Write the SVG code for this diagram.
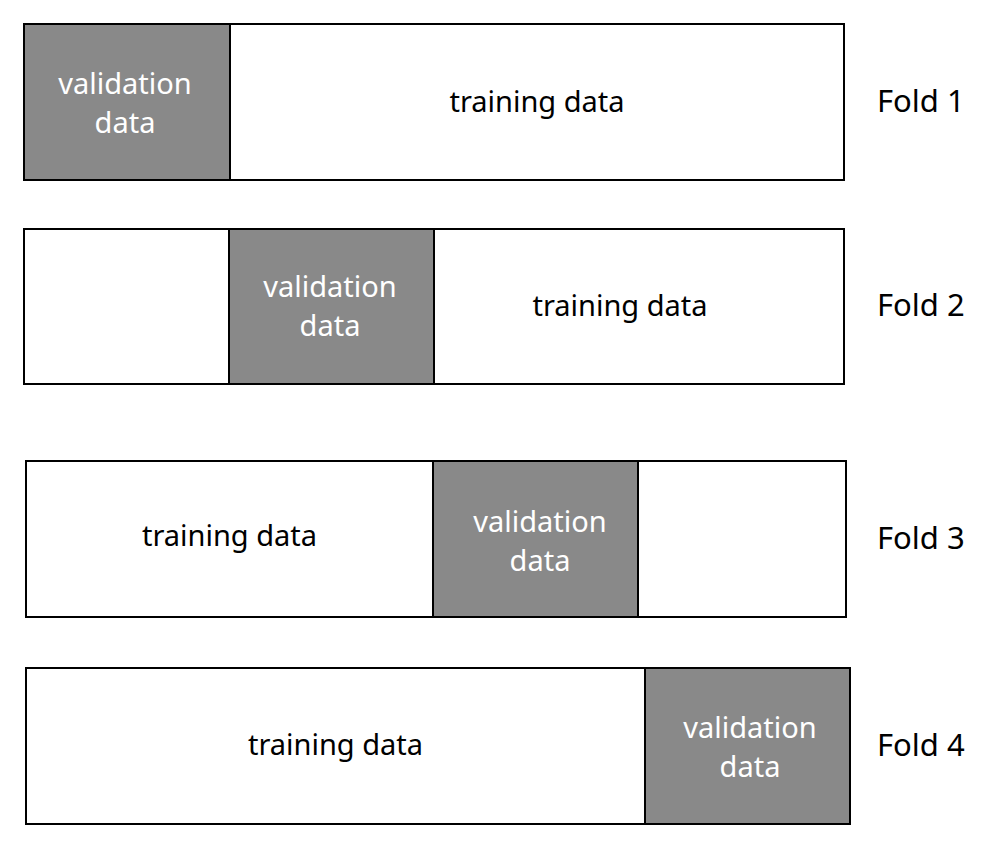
<svg xmlns="http://www.w3.org/2000/svg" width="991" height="849" viewBox="0 0 991 849">
<style>
.box{fill:#fff;stroke:#000;stroke-width:2}
.val{fill:#898989;stroke:#000;stroke-width:2}
text{font-family:"Noto Sans","Liberation Sans",sans-serif;font-size:29px;text-anchor:middle}
.w{fill:#fff}
.k{fill:#000}
.fold{text-anchor:start;fill:#000;font-size:31px}
</style>
<rect width="991" height="849" fill="#fff"/>
<g id="fold1">
<rect class="box" x="24" y="24" width="820" height="156"/>
<rect class="val" x="24" y="24" width="206" height="156"/>
<text class="w" x="125" y="94">validation</text>
<text class="w" x="125" y="133">data</text>
<text class="k" x="537" y="112">training data</text>
<text class="fold" x="877" y="112">Fold 1</text>
</g>
<g id="fold2">
<rect class="box" x="24" y="229" width="820" height="155"/>
<rect class="val" x="229" y="229" width="205" height="155"/>
<text class="w" x="330" y="297">validation</text>
<text class="w" x="330" y="336">data</text>
<text class="k" x="620" y="316">training data</text>
<text class="fold" x="877" y="316">Fold 2</text>
</g>
<g id="fold3">
<rect class="box" x="26" y="461" width="820" height="156"/>
<rect class="val" x="433" y="461" width="205" height="156"/>
<text class="w" x="540" y="532">validation</text>
<text class="w" x="540" y="571">data</text>
<text class="k" x="229.5" y="546">training data</text>
<text class="fold" x="877" y="549">Fold 3</text>
</g>
<g id="fold4">
<rect class="box" x="26" y="668" width="824" height="156"/>
<rect class="val" x="645" y="668" width="205" height="156"/>
<text class="w" x="750" y="738">validation</text>
<text class="w" x="750" y="777">data</text>
<text class="k" x="335.5" y="755">training data</text>
<text class="fold" x="877" y="756">Fold 4</text>
</g>
<g id="connectors"/>
</svg>
